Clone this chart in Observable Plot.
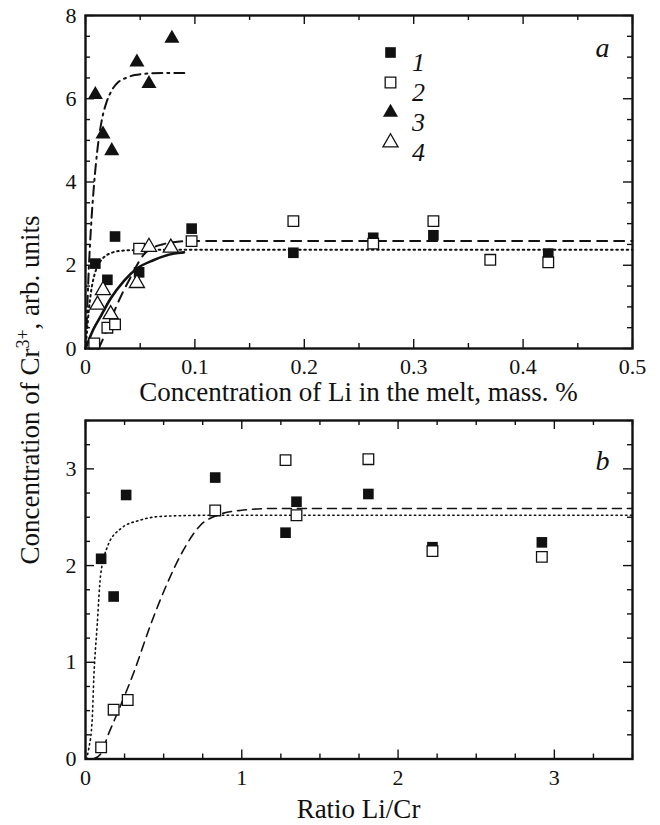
<!DOCTYPE html>
<html><head><meta charset="utf-8">
<script src="https://cdn.jsdelivr.net/npm/d3@7"></script>
<script src="https://cdn.jsdelivr.net/npm/@observablehq/plot@0.6"></script>
<style>
body{margin:0;background:#fff;}
#page{position:relative;width:660px;height:825px;font-family:"Liberation Serif","Times New Roman",serif;color:#111;overflow:hidden;}
#page svg, #page svg text{font-family:"Liberation Serif","Times New Roman",serif !important;}
#pa{position:absolute;left:0;top:0;}
#pb{position:absolute;left:0;top:400px;}
.xt{position:absolute;left:85px;width:547px;text-align:center;font-size:27px;line-height:27px;white-space:nowrap;font-family:"Liberation Serif",serif;}
#xa{top:379px;}
#xb{top:796px;}
#ytitle{position:absolute;left:30px;top:390px;transform:translate(-50%,-50%) rotate(-90deg);white-space:nowrap;font-size:27px;line-height:27px;font-family:"Liberation Serif",serif;}
#ytitle sup{font-size:18px;line-height:0;}
</style></head><body>
<div id="page">
<div id="pa"></div><div id="pb"></div>
<div id="xa" class="xt">Concentration of Li in the melt, mass. %</div>
<div id="xb" class="xt">Ratio Li/Cr</div>
<div id="ytitle">Concentration of Cr<sup>3+</sup>, arb. units</div>
</div>
<script>
// ---------- Panel a data ----------
const a1_x = [0.009, 0.020, 0.027, 0.049, 0.097, 0.190, 0.263, 0.318, 0.423];
const a1_y = [2.04, 1.65, 2.69, 1.83, 2.88, 2.30, 2.66, 2.72, 2.28];
const a2_x = [0.008, 0.020, 0.027, 0.049, 0.097, 0.190, 0.263, 0.318, 0.370, 0.423];
const a2_y = [0.12, 0.50, 0.58, 2.40, 2.58, 3.06, 2.52, 3.06, 2.13, 2.07];
const a3_x = [0.009, 0.016, 0.024, 0.047, 0.058, 0.079];
const a3_y = [6.10, 5.15, 4.75, 6.88, 6.36, 7.45];
const a4_x = [0.011, 0.016, 0.023, 0.047, 0.058, 0.078];
const a4_y = [1.05, 1.40, 0.82, 1.57, 2.44, 2.42];
// fitted curves
const fitA1_x = [0, 0.001, 0.003, 0.005, 0.008, 0.011, 0.014, 0.018, 0.023, 0.030, 0.040, 0.060, 0.5];
const fitA1_y = [0, 0.30, 0.90, 1.35, 1.75, 1.98, 2.11, 2.22, 2.29, 2.34, 2.36, 2.37, 2.37];
const fitA2_x = [0.012, 0.018, 0.024, 0.030, 0.036, 0.041, 0.047, 0.053, 0.060, 0.070, 0.080, 0.095, 0.5];
const fitA2_y = [0, 0.35, 0.75, 1.12, 1.45, 1.70, 2.00, 2.25, 2.40, 2.50, 2.55, 2.58, 2.58];
const fitA3_x = [0.001, 0.003, 0.005, 0.008, 0.011, 0.015, 0.019, 0.024, 0.030, 0.037, 0.045, 0.060, 0.075, 0.092];
const fitA3_y = [0.5, 1.9, 2.9, 4.0, 4.8, 5.5, 5.9, 6.2, 6.4, 6.5, 6.57, 6.61, 6.62, 6.62];
const fitA4_x = [0, 0.003, 0.007, 0.014, 0.023, 0.035, 0.047, 0.062, 0.081, 0.090];
const fitA4_y = [0, 0.20, 0.45, 0.78, 1.20, 1.62, 1.92, 2.12, 2.28, 2.31];
// ---------- Panel b data ----------
const b1_x = [0.10, 0.18, 0.26, 0.83, 1.28, 1.35, 1.81, 2.22, 2.92];
const b1_y = [2.07, 1.68, 2.73, 2.91, 2.34, 2.66, 2.74, 2.19, 2.24];
const b2_x = [0.10, 0.18, 0.27, 0.83, 1.28, 1.35, 1.81, 2.22, 2.92];
const b2_y = [0.12, 0.51, 0.61, 2.57, 3.09, 2.52, 3.10, 2.15, 2.09];
const fitB1_x = [0.005, 0.02, 0.043, 0.053, 0.075, 0.096, 0.139, 0.224, 0.35, 0.5, 0.8, 3.5];
const fitB1_y = [0, 0.10, 0.41, 0.83, 1.39, 1.89, 2.19, 2.38, 2.47, 2.51, 2.52, 2.52];
const fitB2_x = [0.05, 0.096, 0.15, 0.224, 0.31, 0.417, 0.524, 0.63, 0.737, 0.844, 0.99, 1.2, 3.5];
const fitB2_y = [0, 0.05, 0.27, 0.55, 0.90, 1.39, 1.82, 2.17, 2.42, 2.52, 2.57, 2.59, 2.59];
// ---------- ticks ----------
const aXLabels = [0, 0.1, 0.2, 0.3, 0.4, 0.5];
const aYLabels = [0, 2, 4, 6, 8];
const bXLabels = [0, 1, 2, 3];
const bYLabels = [0, 1, 2, 3];
const legendLabels = ["1", "2", "3", "4"];

const pts = (xs, ys) => xs.map((x, i) => ({x, y: ys[i]}));
const range = (a, b, s) => d3.range(Math.round((b - a) / s) + 1).map(i => +(a + i * s).toFixed(4));

const L = 85, R = 28, FW = 660 - L - R;
const MAJ = 9, MIN = 5;
const SERIF = "Liberation Serif";

function frameTicks(xMajor, xMinor, yMajor, yMinor, H) {
  const o = {stroke: "#111", strokeWidth: 1.4};
  return [
    Plot.tickX(xMajor, {x: d => d, insetTop: H - MAJ, ...o}),
    Plot.tickX(xMajor, {x: d => d, insetBottom: H - MAJ, ...o}),
    Plot.tickX(xMinor, {x: d => d, insetTop: H - MIN, ...o}),
    Plot.tickX(xMinor, {x: d => d, insetBottom: H - MIN, ...o}),
    Plot.tickY(yMajor, {y: d => d, insetRight: FW - MAJ, ...o}),
    Plot.tickY(yMajor, {y: d => d, insetLeft: FW - MAJ, ...o}),
    Plot.tickY(yMinor, {y: d => d, insetRight: FW - MIN, ...o}),
    Plot.tickY(yMinor, {y: d => d, insetLeft: FW - MIN, ...o})
  ];
}
const style = {fontFamily: SERIF, fontSize: "22px", color: "#111", background: "transparent", overflow: "visible"};
const sq = {symbol: "square", r: 6};
const tri = {symbol: "triangle", r: 5.6};

// ---------- Panel a ----------
const HA = 400, TA = 15, BA = 52, FHA = HA - TA - BA;
const aXMinor = range(0, 0.5, 0.05).filter(v => !aXLabels.includes(v));
const aYMinor = range(0, 8, 0.5).filter(v => !aYLabels.includes(v));
const legendSymbols = [
  {...sq, fill: "#111"}, {...sq, fill: "white", stroke: "#111", strokeWidth: 1.3},
  {...tri, fill: "#111"}, {...tri, fill: "white", stroke: "#111", strokeWidth: 1.3}
];
const legendMarks = legendLabels.flatMap((lab, i) => [
  Plot.dot([lab], {frameAnchor: "top-left", dx: 305, dy: 37 + 30 * i, ...legendSymbols[i]}),
  Plot.text([lab], {text: d => d, frameAnchor: "top-left", dx: 333, dy: 37 + 30 * i, fontStyle: "italic", fontSize: 26, fontFamily: SERIF, textAnchor: "middle"})
]);

const plotA = Plot.plot({
  width: 660, height: HA, marginLeft: L, marginRight: R, marginTop: TA, marginBottom: BA,
  x: {domain: [0, 0.5]}, y: {domain: [0, 8]}, style,
  marks: [
    Plot.axisX(aXLabels, {tickSize: 0, tickPadding: 10, tickFormat: d => String(d), label: null, fontFamily: SERIF}),
    Plot.axisY(aYLabels, {tickSize: 0, tickPadding: 9, tickFormat: d => String(d), label: null, fontFamily: SERIF}),
    ...frameTicks(aXLabels, aXMinor, aYLabels, aYMinor, FHA),
    Plot.line(pts(fitA1_x, fitA1_y), {x: "x", y: "y", curve: "monotone-x", stroke: "#111", strokeWidth: 2, strokeDasharray: "1.6,3.6", strokeLinecap: "round"}),
    Plot.line(pts(fitA2_x, fitA2_y), {x: "x", y: "y", curve: "monotone-x", stroke: "#111", strokeWidth: 2, strokeDasharray: "10,7"}),
    Plot.line(pts(fitA3_x, fitA3_y), {x: "x", y: "y", curve: "monotone-x", stroke: "#111", strokeWidth: 2, strokeDasharray: "10,5,2,5"}),
    Plot.line(pts(fitA4_x, fitA4_y), {x: "x", y: "y", curve: "monotone-x", stroke: "#111", strokeWidth: 2.6}),
    Plot.dot(pts(a1_x, a1_y), {x: "x", y: "y", ...sq, fill: "#111"}),
    Plot.dot(pts(a2_x, a2_y), {x: "x", y: "y", ...sq, fill: "white", stroke: "#111", strokeWidth: 1.3}),
    Plot.dot(pts(a3_x, a3_y), {x: "x", y: "y", ...tri, fill: "#111"}),
    Plot.dot(pts(a4_x, a4_y), {x: "x", y: "y", ...tri, fill: "white", stroke: "#111", strokeWidth: 1.3}),
    ...legendMarks,
    Plot.text(["a"], {text: d => d, frameAnchor: "top-right", dx: -30, dy: 22, fontStyle: "italic", fontSize: 28, fontFamily: SERIF, textAnchor: "middle"}),
    Plot.frame({stroke: "#111", strokeWidth: 2.4})
  ]
});
document.getElementById("pa").append(plotA);

// ---------- Panel b ----------
const HB = 425, TB = 20, BB = 66.5, FHB = HB - TB - BB;
const bXMinor = range(0, 3.5, 0.25).filter(v => !bXLabels.includes(v));
const bYMinor = range(0, 3.5, 0.25).filter(v => !bYLabels.includes(v));
const plotB = Plot.plot({
  width: 660, height: HB, marginLeft: L, marginRight: R, marginTop: TB, marginBottom: BB,
  x: {domain: [0, 3.5]}, y: {domain: [0, 3.5]}, style,
  marks: [
    Plot.axisX(bXLabels, {tickSize: 0, tickPadding: 10, tickFormat: d => String(d), label: null, fontFamily: SERIF}),
    Plot.axisY(bYLabels, {tickSize: 0, tickPadding: 9, tickFormat: d => String(d), label: null, fontFamily: SERIF}),
    ...frameTicks(bXLabels, bXMinor, bYLabels, bYMinor, FHB),
    Plot.line(pts(fitB1_x, fitB1_y), {x: "x", y: "y", curve: "monotone-x", stroke: "#111", strokeWidth: 1.6, strokeDasharray: "1.4,3.4", strokeLinecap: "round"}),
    Plot.line(pts(fitB2_x, fitB2_y), {x: "x", y: "y", curve: "monotone-x", stroke: "#111", strokeWidth: 1.6, strokeDasharray: "9,6"}),
    Plot.dot(pts(b1_x, b1_y), {x: "x", y: "y", ...sq, fill: "#111"}),
    Plot.dot(pts(b2_x, b2_y), {x: "x", y: "y", ...sq, fill: "white", stroke: "#111", strokeWidth: 1.3}),
    Plot.text(["b"], {text: d => d, frameAnchor: "top-right", dx: -30, dy: 30, fontStyle: "italic", fontSize: 28, fontFamily: SERIF, textAnchor: "middle"}),
    Plot.frame({stroke: "#111", strokeWidth: 2.4})
  ]
});
document.getElementById("pb").append(plotB);
</script>
</body></html>
